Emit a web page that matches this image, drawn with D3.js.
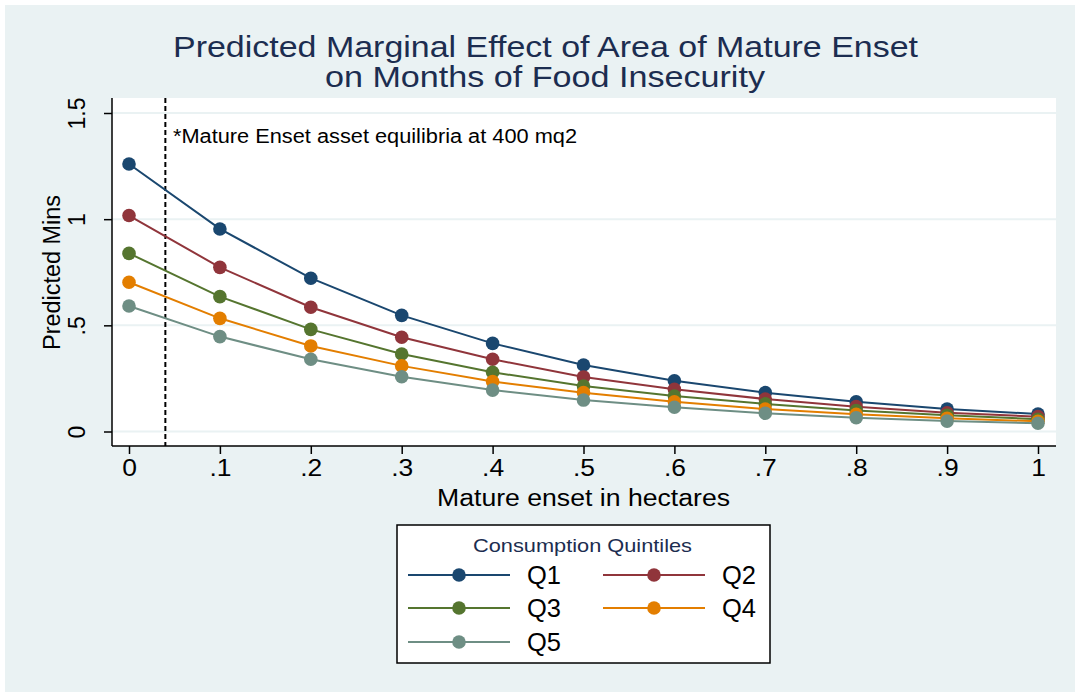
<!DOCTYPE html>
<html><head><meta charset="utf-8">
<script src="https://cdn.jsdelivr.net/npm/d3@7"></script>
<style>html,body{margin:0;padding:0;background:#fff}svg{display:block}</style>
</head><body>
<svg id="c" width="1075" height="692"></svg>
<script>
const xValues = [0, 0.1, 0.2, 0.3, 0.4, 0.5, 0.6, 0.7, 0.8, 0.9, 1];
const q1 = [1.26, 0.954, 0.722, 0.547, 0.415, 0.313, 0.239, 0.183, 0.140, 0.106, 0.082];
const q2 = [1.017, 0.773, 0.585, 0.444, 0.340, 0.257, 0.199, 0.153, 0.117, 0.088, 0.070];
const q3 = [0.839, 0.635, 0.481, 0.365, 0.279, 0.214, 0.167, 0.130, 0.099, 0.076, 0.058];
const q4 = [0.703, 0.533, 0.403, 0.309, 0.235, 0.183, 0.140, 0.106, 0.081, 0.062, 0.048];
const q5 = [0.591, 0.447, 0.340, 0.258, 0.195, 0.148, 0.114, 0.086, 0.065, 0.049, 0.039];
const seriesNames = ["Q1", "Q2", "Q3", "Q4", "Q5"];
const seriesValues = [q1, q2, q3, q4, q5];
const seriesColors = ["#1a476f", "#90353b", "#55752f", "#e37e00", "#6e8e84"];
const xTicks = [0, 0.1, 0.2, 0.3, 0.4, 0.5, 0.6, 0.7, 0.8, 0.9, 1];
const xTickLabels = ["0", ".1", ".2", ".3", ".4", ".5", ".6", ".7", ".8", ".9", "1"];
const yTicks = [0, 0.5, 1, 1.5];
const yTickLabels = ["0", ".5", "1", "1.5"];
const equilibrium = 0.04;
const titleLines = ["Predicted Marginal Effect of Area of Mature Enset", "on Months of Food Insecurity"];
const note = "*Mature Enset asset equilibria at 400 mq2";
const xTitle = "Mature enset in hectares";
const yTitle = "Predicted Mins";
const legendTitle = "Consumption Quintiles";

const FONT = "'Liberation Sans', Arial, Helvetica, sans-serif";
const svg = d3.select("#c");
svg.append("rect").attr("x",5).attr("y",5).attr("width",1070).attr("height",687).attr("fill","#eaf2f3");

const plot = {l:112, r:1056, t:98, b:446};
svg.append("rect").attr("x",plot.l).attr("y",plot.t).attr("width",plot.r-plot.l).attr("height",plot.b-plot.t).attr("fill","#fff");

const x = d3.scaleLinear().domain([0,1]).range([129,1038]);
const y = d3.scaleLinear().domain([0,1.5]).range([431.5,113]);

function fitText(sel, len){ sel.attr("textLength",len).attr("lengthAdjust","spacingAndGlyphs"); return sel; }

// gridlines
svg.append("g").selectAll("line").data(yTicks).join("line")
  .attr("x1",plot.l).attr("x2",plot.r).attr("y1",d=>y(d)).attr("y2",d=>y(d))
  .attr("stroke","#eaf2f3").attr("stroke-width",2);

// axes
const yAxis = d3.axisLeft(y).tickValues(yTicks).tickFormat((d,i)=>yTickLabels[i]).tickSize(8).tickPadding(6);
const gy = svg.append("g").attr("transform",`translate(${plot.l},0)`).call(yAxis);
gy.select(".domain").attr("d",`M0,${plot.t}V${plot.b}`).attr("stroke","#000").attr("stroke-width",1.5);
gy.selectAll(".tick line").attr("stroke","#000").attr("stroke-width",1.5);
gy.selectAll(".tick text").attr("font-family",FONT).attr("font-size",23).attr("fill","#000")
  .attr("x",null).attr("y",null).attr("dy",null)
  .attr("transform","translate(-27,0) rotate(-90)").attr("text-anchor","middle");

const xAxis = d3.axisBottom(x).tickValues(xTicks).tickFormat((d,i)=>xTickLabels[i]).tickSize(8).tickPadding(6);
const gx = svg.append("g").attr("transform",`translate(0,${plot.b})`).call(xAxis);
gx.select(".domain").attr("d",`M${plot.l},0H${plot.r}`).attr("stroke","#000").attr("stroke-width",1.5);
gx.selectAll(".tick line").attr("stroke","#000").attr("stroke-width",1.5);
gx.selectAll(".tick text").attr("font-family",FONT).attr("font-size",23).attr("fill","#000").attr("dy","0.71em")
  .attr("x",0).attr("transform","scale(1.15,1)");

// dashed line
svg.append("line").attr("x1",x(equilibrium)).attr("x2",x(equilibrium)).attr("y1",plot.t).attr("y2",plot.b)
  .attr("stroke","#000").attr("stroke-width",2).attr("stroke-dasharray","5,3");

// series
const line = d3.line().x((d,i)=>x(xValues[i])).y(d=>y(d));
seriesValues.forEach((vals,k)=>{
  svg.append("path").datum(vals).attr("d",line).attr("fill","none").attr("stroke",seriesColors[k]).attr("stroke-width",2);
});
seriesValues.forEach((vals,k)=>{
  svg.append("g").selectAll("circle").data(vals).join("circle")
    .attr("cx",(d,i)=>x(xValues[i])).attr("cy",d=>y(d)).attr("r",6.8).attr("fill",seriesColors[k]);
});

// note
fitText(svg.append("text").attr("x",173).attr("y",143).attr("font-family",FONT).attr("font-size",19.5).attr("fill","#000").text(note), 404);

// titles
fitText(svg.append("text").attr("x",173).attr("y",57).attr("font-family",FONT).attr("font-size",30).attr("fill","#1c2d50").text(titleLines[0]), 745);
fitText(svg.append("text").attr("x",325).attr("y",87).attr("font-family",FONT).attr("font-size",30).attr("fill","#1c2d50").text(titleLines[1]), 440);

fitText(svg.append("text").attr("x",437).attr("y",506)
  .attr("font-family",FONT).attr("font-size",23).attr("fill","#000").text(xTitle), 293);
fitText(svg.append("text").attr("transform",`translate(60,350) rotate(-90)`)
  .attr("font-family",FONT).attr("font-size",23).attr("fill","#000").text(yTitle), 155);

// legend
const lg = svg.append("g");
lg.append("rect").attr("x",397).attr("y",525).attr("width",373).attr("height",138).attr("fill","#fff").attr("stroke","#000").attr("stroke-width",1.5);
fitText(lg.append("text").attr("x",473).attr("y",552).attr("font-family",FONT).attr("font-size",19).attr("fill","#1c2d50").text(legendTitle), 219);
const rowsY = [575, 608, 642];
seriesNames.forEach((nm,k)=>{
  const col = k%2, row = Math.floor(k/2);
  const x0 = col===0 ? 408 : 603;
  const cy = rowsY[row];
  lg.append("line").attr("x1",x0).attr("x2",x0+102).attr("y1",cy).attr("y2",cy).attr("stroke",seriesColors[k]).attr("stroke-width",2);
  lg.append("circle").attr("cx",x0+51).attr("cy",cy).attr("r",6.8).attr("fill",seriesColors[k]);
  fitText(lg.append("text").attr("x",x0+119).attr("y",cy+9).attr("font-family",FONT).attr("font-size",25).attr("fill","#000").text(nm), 34);
});
</script>
</body></html>
